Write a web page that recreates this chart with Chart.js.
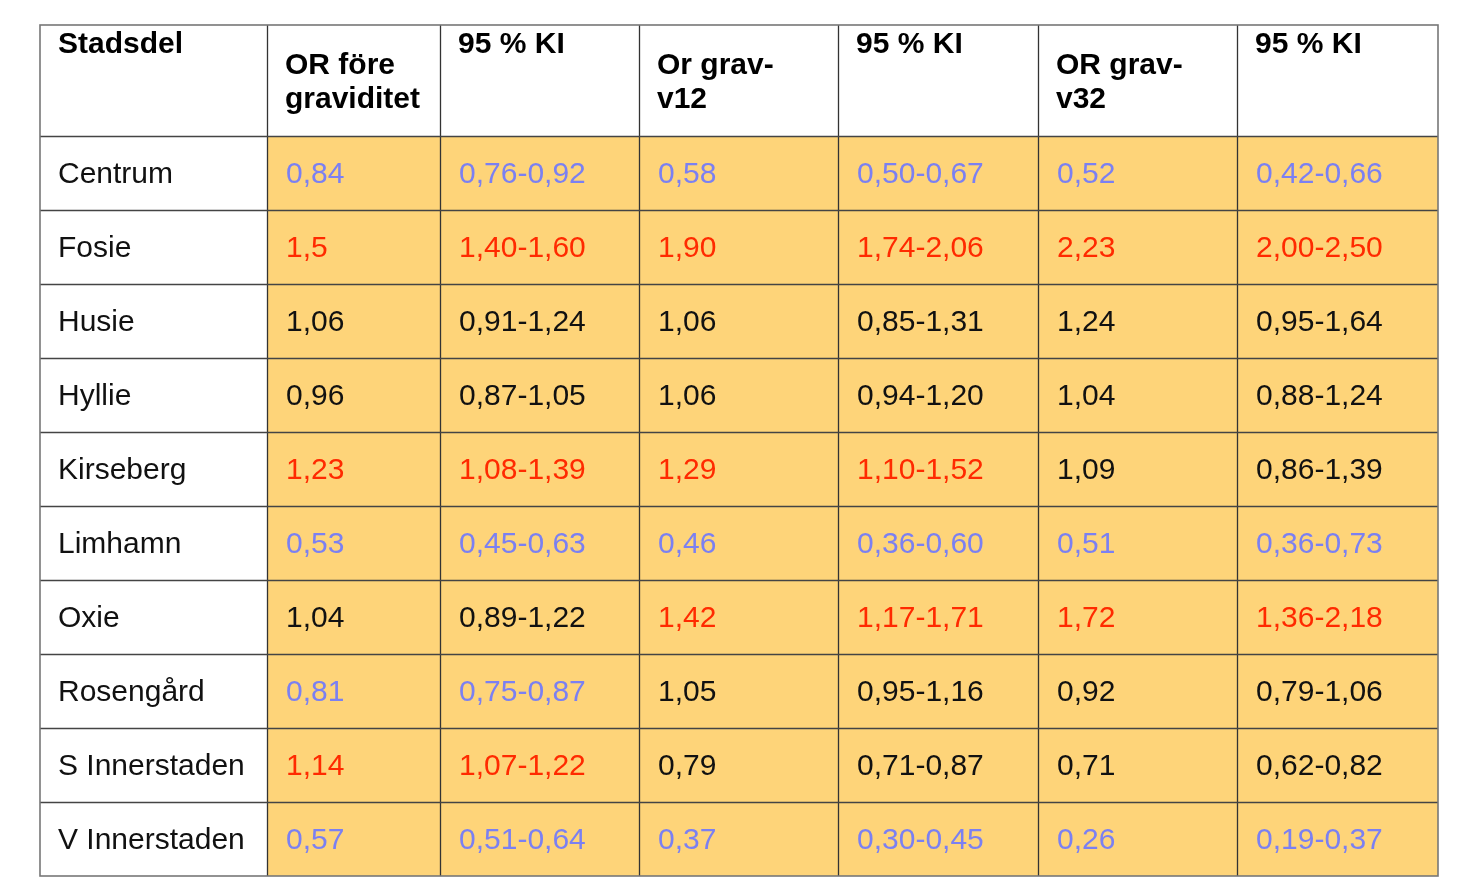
<!DOCTYPE html>
<html>
<head>
<meta charset="utf-8">
<script src="https://cdn.jsdelivr.net/npm/chart.js@4.4.0/dist/chart.umd.min.js"></script>
<style>
  html, body { margin: 0; padding: 0; background: #fff; }
  canvas { display: block; }
</style>
</head>
<body>
<canvas id="myChart" width="1469" height="884"></canvas>
<script>
// table data
const headers = [['Stadsdel'], ['OR före', 'graviditet'], ['95 % KI'], ['Or grav-', 'v12'], ['95 % KI'], ['OR grav-', 'v32'], ['95 % KI']];
const headerTop = [true, false, true, false, true, false, true];
const districts = ['Centrum', 'Fosie', 'Husie', 'Hyllie', 'Kirseberg', 'Limhamn', 'Oxie', 'Rosengård', 'S Innerstaden', 'V Innerstaden'];
const orPre = ['0,84', '1,5', '1,06', '0,96', '1,23', '0,53', '1,04', '0,81', '1,14', '0,57'];
const ciPre = ['0,76-0,92', '1,40-1,60', '0,91-1,24', '0,87-1,05', '1,08-1,39', '0,45-0,63', '0,89-1,22', '0,75-0,87', '1,07-1,22', '0,51-0,64'];
const orV12 = ['0,58', '1,90', '1,06', '1,06', '1,29', '0,46', '1,42', '1,05', '0,79', '0,37'];
const ciV12 = ['0,50-0,67', '1,74-2,06', '0,85-1,31', '0,94-1,20', '1,10-1,52', '0,36-0,60', '1,17-1,71', '0,95-1,16', '0,71-0,87', '0,30-0,45'];
const orV32 = ['0,52', '2,23', '1,24', '1,04', '1,09', '0,51', '1,72', '0,92', '0,71', '0,26'];
const ciV32 = ['0,42-0,66', '2,00-2,50', '0,95-1,64', '0,88-1,24', '0,86-1,39', '0,36-0,73', '1,36-2,18', '0,79-1,06', '0,62-0,82', '0,19-0,37'];
// L = lower (blue), H = higher (red), '' = black
const sigPre = ['L', 'H', '', '', 'H', 'L', '', 'L', 'H', 'L'];
const sigV12 = ['L', 'H', '', '', 'H', 'L', 'H', '', '', 'L'];
const sigV32 = ['L', 'H', '', '', '', 'L', 'H', '', '', 'L'];

// layout
const colWidths = [227, 173, 199, 199, 200, 199, 201];
const headerRows = 1.5;
const colors = { L: '#7b80f2', H: '#ff2a00', '': '#111' };

const columns = [districts, orPre, ciPre, orV12, ciV12, orV32, ciV32];
const colSig = [null, sigPre, sigPre, sigV12, sigV12, sigV32, sigV32];
const colEdges = [0];
colWidths.forEach(w => colEdges.push(colEdges[colEdges.length - 1] + w));
const totalRows = headerRows + districts.length;

const tablePlugin = {
  id: 'table',
  afterDatasetsDraw(chart) {
    const c = chart.ctx;
    const x = chart.scales.x, y = chart.scales.y;
    c.save();
    // fills
    for (let col = 1; col < columns.length; col++) {
      const x0 = x.getPixelForValue(colEdges[col]);
      const x1 = x.getPixelForValue(colEdges[col + 1]);
      const y0 = y.getPixelForValue(headerRows);
      const y1 = y.getPixelForValue(totalRows);
      c.fillStyle = '#fed479';
      c.fillRect(x0, y0, x1 - x0, y1 - y0);
    }
    // grid lines
    c.strokeStyle = '#333';
    c.lineWidth = 1.3;
    for (let i = 1; i < colEdges.length - 1; i++) {
      const px = Math.round(x.getPixelForValue(colEdges[i])) + 0.5;
      c.beginPath();
      c.moveTo(px, y.getPixelForValue(0));
      c.lineTo(px, y.getPixelForValue(totalRows));
      c.stroke();
    }
    c.strokeStyle = '#444';
    for (let r = 0; r < districts.length; r++) {
      const py = Math.round(y.getPixelForValue(headerRows + r)) + 0.5;
      c.beginPath();
      c.moveTo(x.getPixelForValue(0), py);
      c.lineTo(x.getPixelForValue(colEdges[colEdges.length - 1]), py);
      c.stroke();
    }
    // outer border
    c.strokeStyle = '#777';
    c.lineWidth = 1.6;
    const bx0 = x.getPixelForValue(0), bx1 = x.getPixelForValue(colEdges[colEdges.length - 1]);
    const by0 = y.getPixelForValue(0), by1 = y.getPixelForValue(totalRows);
    c.strokeRect(bx0, by0, bx1 - bx0, by1 - by0);

    // header text
    c.textBaseline = 'middle';
    c.textAlign = 'left';
    c.fillStyle = '#000';
    c.font = 'bold 30px "Liberation Sans", Arial, sans-serif';
    headers.forEach((lines, col) => {
      const tx = x.getPixelForValue(colEdges[col]) + 18;
      const startY = y.getPixelForValue(0) + (headerTop[col] ? 20 : 41);
      lines.forEach((t, k) => c.fillText(t, tx, startY + k * 34));
    });
    // body text
    c.font = '30px "Liberation Sans", Arial, sans-serif';
    columns.forEach((vals, col) => {
      const tx = x.getPixelForValue(colEdges[col]) + (col === 0 ? 18 : 19);
      vals.forEach((t, r) => {
        const ty = (y.getPixelForValue(headerRows + r) + y.getPixelForValue(headerRows + r + 1)) / 2 + 2;
        c.fillStyle = colSig[col] ? colors[colSig[col][r]] : '#111';
        c.fillText(t, tx, ty);
      });
    });
    c.restore();
  }
};

const ctx = document.getElementById('myChart');
let chart = new Chart(ctx, {
  type: 'scatter',
  data: { datasets: [{ data: [], pointRadius: 0 }] },
  options: {
    responsive: false,
    animation: false,
    events: [],
    layout: { padding: { left: 40, right: 31, top: 25, bottom: 8 } },
    plugins: { legend: { display: false }, tooltip: { enabled: false } },
    scales: {
      x: { type: 'linear', display: false, min: 0, max: colEdges[colEdges.length - 1] },
      y: { type: 'linear', display: false, min: 0, max: totalRows, reverse: true }
    }
  },
  plugins: [tablePlugin]
});
</script>
</body>
</html>
